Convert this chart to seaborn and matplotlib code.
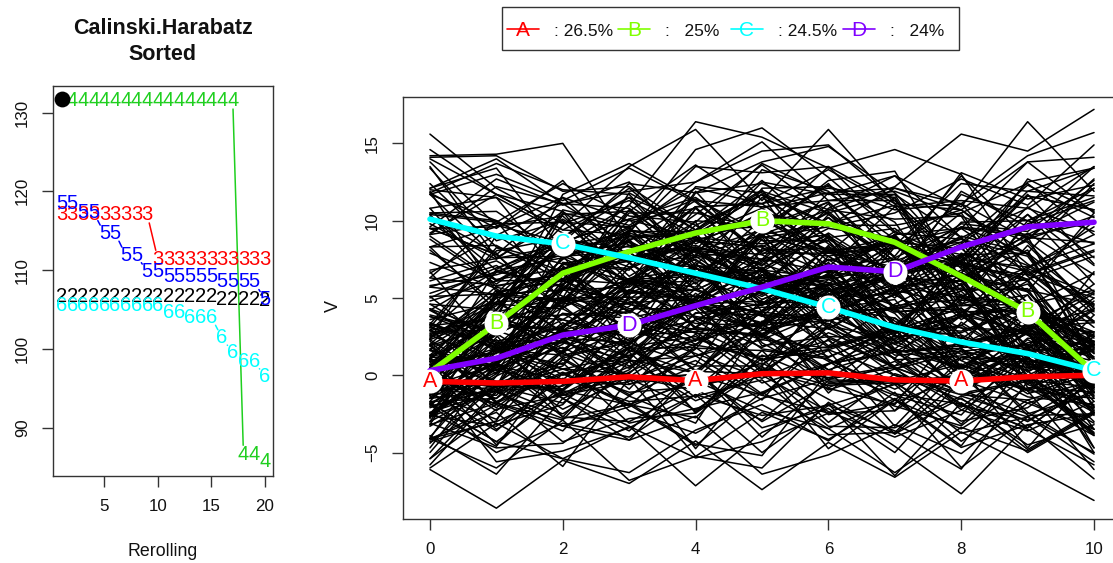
import numpy as np
import pandas as pd
import matplotlib
matplotlib.use("Agg")
import matplotlib.pyplot as plt
from matplotlib.patches import Rectangle
import seaborn as sns

# ---------------- Calinski-Harabatz criterion, sorted over 20 rerollings ----------------
REROLL = list(range(1, 21))
CH_2 = [106.6, 106.6, 106.6, 106.6, 106.6, 106.6, 106.6, 106.6, 106.6, 106.6,
        106.6, 106.6, 106.6, 106.6, 106.6, 106.2, 106.2, 106.2, 106.2, 106.1]
CH_3 = [117.1, 117.1, 117.1, 117.1, 117.1, 117.1, 117.1, 117.1, 117.1, 111.4,
        111.4, 111.4, 111.4, 111.4, 111.4, 111.4, 111.4, 111.4, 111.4, 111.4]
CH_4 = [131.6, 131.6, 131.6, 131.6, 131.6, 131.6, 131.6, 131.6, 131.6, 131.6,
        131.6, 131.6, 131.6, 131.6, 131.6, 131.6, 131.6, 86.6, 86.6, 85.7]
CH_5 = [118.4, 118.4, 117.3, 117.3, 114.7, 114.7, 111.9, 111.9, 109.8, 109.8,
        109.2, 109.2, 109.2, 109.2, 109.2, 108.5, 108.5, 108.5, 108.5, 106.3]
CH_6 = [105.5, 105.5, 105.5, 105.5, 105.5, 105.5, 105.5, 105.5, 105.5, 105.5,
        104.6, 104.6, 104.0, 104.0, 104.0, 101.4, 99.5, 98.4, 98.4, 96.5]
CH_SERIES = {"2": CH_2, "3": CH_3, "4": CH_4, "5": CH_5, "6": CH_6}
CH_COLORS = {"2": "#000000", "3": "#FF0000", "4": "#1FCF1F", "5": "#0000FF", "6": "#00FFFF"}
BEST_CH = 131.7

# ---------------- trajectories: cluster means ----------------
TIMES = [0, 1, 2, 3, 4, 5, 6, 7, 8, 9, 10]
MEAN_A = [-0.4, -0.5, -0.4, -0.1, -0.35, 0.1, 0.15, -0.3, -0.37, -0.1, 0.0]
MEAN_B = [0.2, 3.35, 6.6, 8.0, 9.2, 10.0, 9.8, 8.6, 6.4, 4.1, 0.2]
MEAN_C = [10.1, 9.0, 8.5, 7.6, 6.6, 5.6, 4.4, 3.1, 2.15, 1.4, 0.3]
MEAN_D = [0.3, 1.1, 2.6, 3.25, 4.5, 5.7, 7.0, 6.7, 8.3, 9.6, 9.9]
CLUSTER_NAMES = ["A", "B", "C", "D"]
CLUSTER_COLORS = ["#FF0000", "#80FF00", "#00FFFF", "#8000FF"]

# individual trajectories: "level  per-time deviation codes (0-9)"
ROWS_A = """
-5.4 40527163840
-4.6 63814295071
-4.1 27360581946
-3.8 51947026385
-3.5 84205739162
-3.3 19673840526
-3.0 72538164093
-2.8 36091527484
-2.6 58462093715
-2.4 90137458262
-2.2 24785906134
-2.0 67319240857
-1.9 43856712908
-1.7 15290867349
-1.5 82647315092
-1.4 39518064271
-1.2 76023985416
-1.0 51784620379
-0.9 08365179524
-0.7 64920357186
-0.6 27459813605
-0.4 93186045732
-0.3 45702368951
-0.1 18634597203
0.0 70291546838
0.1 36847201965
0.3 82510634497
0.4 49073825160
0.5 13568942074
0.7 65934170582
0.8 21407569836
1.0 97325084613
1.1 54862310947
1.3 30719658421
1.4 86243907155
1.6 42150786390
1.8 69587342018
1.9 15034689572
2.1 78416025839
2.3 33879514260
2.5 60293478145
2.7 27561093784
2.9 84107652938
3.1 49638215071
3.4 12975480346
3.7 57320946812
4.0 35186273509
4.4 91654038127
-1.1 26493817560
0.6 73048569213
-0.8 48215730694
1.2 05879462351
-2.3 62730148985
"""

ROWS_B = """
-4.8 52916083742
-4.0 37481625093
-3.5 80263917456
-3.1 14709358261
-2.8 69352480917
-2.5 43178206539
-2.2 95820734168
-2.0 21647593804
-1.8 58034169725
-1.6 76491328051
-1.4 30856742916
-1.2 87203951648
-1.0 42569017384
-0.9 19384726509
-0.7 63027584193
-0.5 05718263947
-0.4 71945830265
-0.2 38260497158
-0.1 94573162804
0.0 26819045373
0.2 53147689021
0.3 80692314756
0.5 17354820689
0.6 64081973532
0.8 39726508147
0.9 92418637065
1.1 45093271894
1.2 78630145928
1.4 03957486312
1.5 56214830679
1.7 21869352407
1.9 87345069182
2.0 34580217956
2.2 69102748533
2.4 12736895240
2.6 58461302719
2.8 93027564181
3.0 40893125676
3.3 75218940352
3.6 28654713098
4.0 61379082544
4.5 84029637815
-1.3 17596204863
0.4 50342879126
-0.6 36780512497
1.0 92153648730
-2.4 47926031568
2.3 03485796214
-3.8 68217459302
1.6 25064183979
"""

ROWS_C = """
-5.0 31859402763
-4.3 76204938517
-3.7 48532160984
-3.2 15968724039
-2.9 62713085491
-2.6 97046531872
-2.3 23589476105
-2.1 50872319648
-1.9 84320695713
-1.7 19657843206
-1.5 65091278434
-1.3 32486910567
-1.1 78043526189
-1.0 41769035852
-0.8 06235784391
-0.6 53918462075
-0.5 87462105938
-0.3 24107659384
-0.2 60593847216
0.0 39841276053
0.1 72365094818
0.3 15728463590
0.4 58094132767
0.6 93617850224
0.7 46250917386
0.9 21836549071
1.0 67403285915
1.2 34978016452
1.3 80524763139
1.5 13769428506
1.7 59146037281
1.8 96382150674
2.0 42815693720
2.2 07593481265
2.4 75230864917
2.6 38671209543
2.8 61048572398
3.1 26497315860
3.4 84153906723
3.8 57906248131
4.3 46352817094
-0.9 90281463577
0.5 25670938142
-2.0 63419207586
1.1 18745362903
-1.2 71038594265
2.3 49562071839
-3.4 36907185420
0.2 83254610798
"""

ROWS_D = """
-4.9 73150964282
-4.2 28697015436
-3.6 61834279503
-3.2 45012683971
-2.9 90476132858
-2.6 16389547620
-2.3 54921780346
-2.1 37268049519
-1.9 82503916472
-1.7 09745263185
-1.5 64180357924
-1.3 25837490613
-1.1 71462809357
-0.9 48093126785
-0.7 93516742068
-0.6 12678035491
-0.4 56294178302
-0.2 80351962747
-0.1 34729584160
0.1 67012435893
0.2 21845697032
0.4 95307264518
0.5 43960138275
0.7 78523901646
0.9 06184752939
1.0 52749316084
1.2 39016843527
1.4 84372590165
1.5 17653029748
1.7 60938471253
1.9 45281763906
2.1 92467105382
2.3 28104657839
2.5 73859240614
2.7 51026389477
3.0 36597812040
3.3 89241560723
3.7 14830975368
4.1 67395048291
4.6 42709836959
-0.8 85163279406
0.3 20598417634
-2.4 57831692048
1.3 93470285716
-1.4 38026571493
2.0 61792304857
-3.0 04358916782
0.8 79615043289
"""
DEV_STEP = 0.6


def parse_rows(block):
    out = []
    for line in block.strip().splitlines():
        lv, codes = line.split()
        out.append((float(lv), [int(c) for c in codes]))
    return out


# ---------------- style ----------------
sns.set_style("white")
plt.rcParams["font.family"] = ["Liberation Sans", "DejaVu Sans"]
plt.rcParams["text.color"] = "#111111"
plt.rcParams["axes.edgecolor"] = "#333333"
plt.rcParams["xtick.color"] = "#333333"
plt.rcParams["ytick.color"] = "#333333"
plt.rcParams["xtick.labelcolor"] = "#111111"
plt.rcParams["ytick.labelcolor"] = "#111111"

W, H = 1113, 563
fig = plt.figure(figsize=(W / 100, H / 100), dpi=100)


def px_axes(left, top, right, bottom):
    return fig.add_axes([left / W, 1 - bottom / H, (right - left) / W, (bottom - top) / H])


def style_axes(ax):
    for s in ax.spines.values():
        s.set_linewidth(1.0)
        s.set_color("#333333")
    ax.tick_params(axis="both", which="major", bottom=True, left=True,
                   length=7.7, width=1.0, labelsize=12.2, pad=9)
    ax.tick_params(axis="y", labelrotation=90)
    for lab in ax.get_yticklabels():
        lab.set_va("center")


# ---------------- left panel: sorted criterion ----------------
axl = px_axes(53.4, 85.6, 273.0, 475.8)
all_ch = np.concatenate([np.array(v) for v in CH_SERIES.values()])
xpad = 0.04 * (REROLL[-1] - REROLL[0])
ypad = 0.04 * (all_ch.max() - all_ch.min())
axl.set_xlim(REROLL[0] - xpad, REROLL[-1] + xpad)
axl.set_ylim(all_ch.min() - ypad, all_ch.max() + ypad)
axl.set_xticks([5, 10, 15, 20])
axl.set_yticks([90, 100, 110, 120, 130])
style_axes(axl)
axl.set_xlabel("")
axl.set_ylabel("")


def gapped_lines(ax, xs, ys, color, gap=9.0):
    pts = ax.transData.transform(np.column_stack([xs, ys]))
    inv = ax.transData.inverted()
    for p, q in zip(pts[:-1], pts[1:]):
        d = q - p
        L = np.hypot(d[0], d[1])
        if L <= 2 * gap:
            continue
        u = d / L
        a = inv.transform(p + u * gap)
        b = inv.transform(q - u * gap)
        ax.plot([a[0], b[0]], [a[1], b[1]], color=color, lw=1.1, zorder=2)


for k, vals in CH_SERIES.items():
    gapped_lines(axl, REROLL, vals, CH_COLORS[k])
    for x, v in zip(REROLL, vals):
        axl.text(x, v, k, color=CH_COLORS[k], fontsize=14.5, ha="center",
                 va="center", zorder=3)
axl.scatter([REROLL[0]], [BEST_CH], s=130, color="black", zorder=5, linewidths=0)

fig.text(162.5 / W, 1 - 29 / H, "Calinski.Harabatz", ha="center", va="center",
         fontsize=15.5, fontweight="bold")
fig.text(162.5 / W, 1 - 54 / H, "Sorted", ha="center", va="center",
         fontsize=15.5, fontweight="bold")
fig.text(162.5 / W, 1 - 551 / H, "Rerolling", ha="center", va="center", fontsize=12.8)

# ---------------- right panel: trajectories and cluster means ----------------
axr = px_axes(403.4, 97, 1120.6, 519)
means = [MEAN_A, MEAN_B, MEAN_C, MEAN_D]
blocks = [ROWS_A, ROWS_B, ROWS_C, ROWS_D]

records = []
counts = []
tid = 0
for name, mean, block in zip(CLUSTER_NAMES, means, blocks):
    rows = parse_rows(block)
    counts.append(len(rows))
    for level, codes in rows:
        for t, m, c in zip(TIMES, mean, codes):
            records.append((tid, name, t, m + level + (c - 4.5) * DEV_STEP))
        tid += 1
traj = pd.DataFrame(records, columns=["id", "cluster", "time", "V"])

sns.lineplot(data=traj, x="time", y="V", units="id", estimator=None, color="black",
             lw=1.1, ax=axr, legend=False, sort=False, zorder=1)

mean_df = pd.DataFrame([(name, t, v) for name, mean in zip(CLUSTER_NAMES, means)
                        for t, v in zip(TIMES, mean)], columns=["cluster", "time", "V"])
sns.lineplot(data=mean_df, x="time", y="V", hue="cluster", palette=CLUSTER_COLORS,
             estimator=None, lw=4.0, ax=axr, legend=False, sort=False, zorder=3)

for ci, (name, mean, col) in enumerate(zip(CLUSTER_NAMES, means, CLUSTER_COLORS)):
    for t, v in zip(TIMES, mean):
        if t % 4 == ci:
            axr.scatter([t], [v], s=300, color="white", zorder=4, linewidths=0)
            axr.text(t, v, name, color=col, fontsize=15.5, ha="center",
                     va="center", zorder=5)

axr.set_xlim(-0.4, 10.4)
axr.set_ylim(-9.3, 18.0)
axr.set_xticks([0, 2, 4, 6, 8, 10])
axr.set_yticks([-5, 0, 5, 10, 15])
style_axes(axr)
axr.set_xlabel("")
axr.set_ylabel("")
fig.text(333 / W, 1 - 306 / H, "V", rotation=90, ha="center", va="center", fontsize=13)

# ---------------- legend (cluster proportions) ----------------
lay = fig.add_axes([0, 0, 1, 1])
lay.set_xlim(0, W)
lay.set_ylim(H, 0)
lay.axis("off")
lay.add_patch(Rectangle((502, 7), 457, 43, facecolor="white", edgecolor="#333333", lw=1.0))
total = sum(counts)
starts = [507, 618, 731, 843]
for x0, name, col, cnt in zip(starts, CLUSTER_NAMES, CLUSTER_COLORS, counts):
    pct = f"{100 * cnt / total:g}%"
    lay.plot([x0, x0 + 32], [28.5, 28.5], color=col, lw=1.2)
    lay.text(x0 + 16, 30.5, name, color=col, fontsize=15, ha="center", va="center")
    lay.text(x0 + 47, 31, ": " + f"{pct:>5}", fontsize=12.5, ha="left", va="center")

fig.savefig("out.png", dpi=100)
